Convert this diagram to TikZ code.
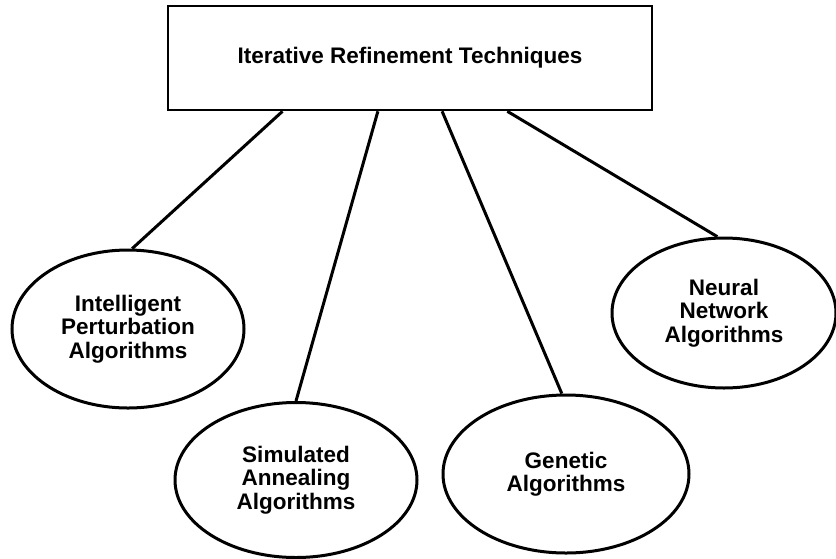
\documentclass[tikz,border=0pt]{standalone}
\usepackage{fontspec}
\setmainfont{Liberation Sans}
\usepackage{tikz}
\usetikzlibrary{shapes.geometric,positioning,calc}
\newcommand{\lbl}{\fontsize{22.5}{23.5}\selectfont\bfseries}
\tikzset{
  rootbox/.style={rectangle, draw=black, line width=2.6pt, minimum width=484pt,
    minimum height=104pt, align=center, font=\lbl, inner sep=0pt},
  methodoval/.style={ellipse, draw=black, line width=3pt, align=center,
    font=\lbl, inner sep=0pt},
  branchline/.style={draw=black, line width=3pt},
}

\begin{document}
\begin{tikzpicture}[x=1pt, y=-1pt]
  \useasboundingbox (0,0) rectangle (836,558);
  % Top box
  \node[rootbox] (root) at (410,58) {\raisebox{-4pt}{Iterative Refinement Techniques}};

  % Four algorithm families
  \node[methodoval, minimum width=232pt, minimum height=158pt] (intel) at (128,329) {Intelligent\\Perturbation\\Algorithms};
  \node[methodoval, minimum width=242pt, minimum height=155pt] (anneal) at (296,480) {Simulated\\Annealing\\Algorithms};
  \node[methodoval, minimum width=246pt, minimum height=158pt] (genetic) at (566,474) {Genetic\\Algorithms};
  \node[methodoval, minimum width=224pt, minimum height=150pt] (neural) at (724,313) {Neural\\Network\\Algorithms};

  % Branch points on the bottom of the box
  \coordinate (b1) at ($(root.south west)!0.238!(root.south east)$);
  \coordinate (b2) at ($(root.south west)!0.434!(root.south east)$);
  \coordinate (b3) at ($(root.south west)!0.566!(root.south east)$);
  \coordinate (b4) at ($(root.south west)!0.700!(root.south east)$);

  \draw[branchline] (b1) -- (intel.87);
  \draw[branchline] (b2) -- (anneal.90);
  \draw[branchline] (b3) -- (genetic.93);
  \draw[branchline] (b4) -- (neural.95);
\end{tikzpicture}
\end{document}
